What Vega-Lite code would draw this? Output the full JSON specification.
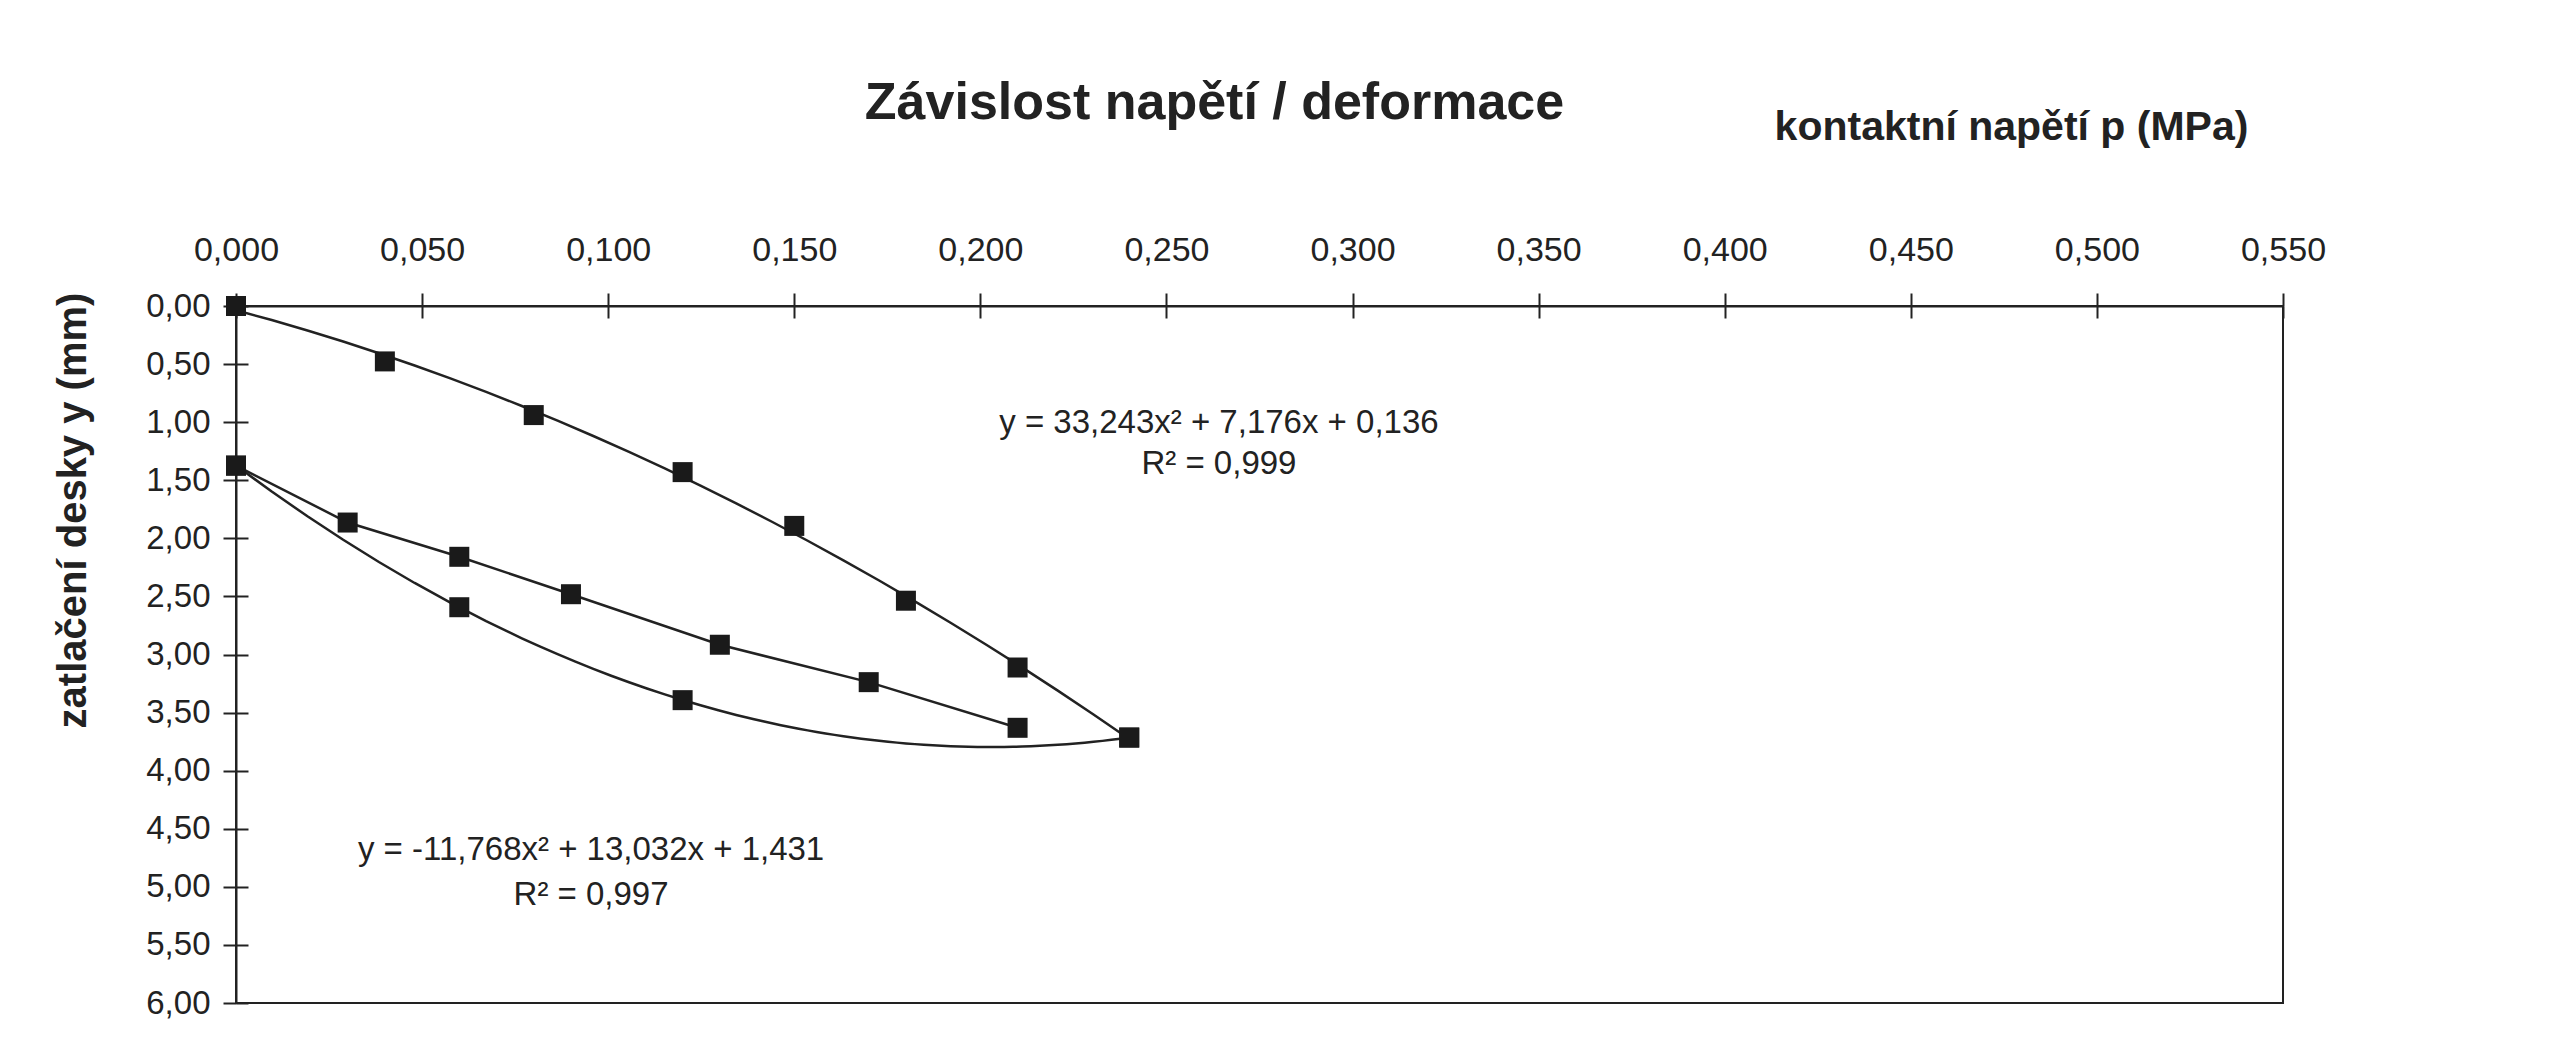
{
  "$schema": "https://vega.github.io/schema/vega-lite/v6.json",
  "autosize": {"type": "none"},
  "width": 2047,
  "height": 697,
  "padding": {"left": 236, "top": 306, "right": 270, "bottom": 55},
  "background": "white",
  "title": {
    "text": "Závislost napětí / deformace",
    "font": "Liberation Sans",
    "fontSize": 52,
    "fontWeight": "bold",
    "color": "#222222",
    "anchor": "middle",
    "frame": "group",
    "baseline": "alphabetic",
    "offset": 0,
    "dx": -45,
    "dy": 65
  },
  "datasets": {
    "points": [
      {"series": "A", "p": 0.0, "y": 0.0},
      {"series": "A", "p": 0.04, "y": 0.477},
      {"series": "A", "p": 0.08, "y": 0.939},
      {"series": "A", "p": 0.12, "y": 1.43},
      {"series": "A", "p": 0.15, "y": 1.893},
      {"series": "A", "p": 0.18, "y": 2.537},
      {"series": "A", "p": 0.21, "y": 3.112},
      {"series": "A", "p": 0.24, "y": 3.715},
      {"series": "B", "p": 0.0, "y": 1.374},
      {"series": "B", "p": 0.03, "y": 1.864},
      {"series": "B", "p": 0.06, "y": 2.159},
      {"series": "B", "p": 0.09, "y": 2.481},
      {"series": "B", "p": 0.13, "y": 2.916},
      {"series": "B", "p": 0.17, "y": 3.238},
      {"series": "B", "p": 0.21, "y": 3.631},
      {"series": "C", "p": 0.0, "y": 1.374},
      {"series": "C", "p": 0.06, "y": 2.593},
      {"series": "C", "p": 0.12, "y": 3.393},
      {"series": "C", "p": 0.24, "y": 3.715}
    ],
    "labels": [
      {"p": 0.2641, "y": 1.007, "text": "y = 33,243x² + 7,176x + 0,136"},
      {"p": 0.2641, "y": 1.36, "text": "R² = 0,999"},
      {"p": 0.0954, "y": 4.68, "text": "y = -11,768x² + 13,032x + 1,431"},
      {"p": 0.0954, "y": 5.07, "text": "R² = 0,997"}
    ]
  },
  "config": {
    "font": "Liberation Sans",
    "view": {"stroke": "#222222", "strokeWidth": 2},
    "axis": {
      "labelFont": "Liberation Sans",
      "titleFont": "Liberation Sans",
      "labelColor": "#222222",
      "titleColor": "#222222",
      "domainColor": "#222222",
      "tickColor": "#222222",
      "domainWidth": 2,
      "tickWidth": 2
    }
  },
  "encoding": {
    "x": {
      "field": "p",
      "type": "quantitative",
      "scale": {"domain": [0, 0.55], "nice": false, "zero": false},
      "axis": {
        "orient": "top",
        "values": [0, 0.05, 0.1, 0.15, 0.2, 0.25, 0.3, 0.35, 0.4, 0.45, 0.5, 0.55],
        "labelExpr": "replace(format(datum.value, '.3f'), '.', ',')",
        "labelFontSize": 34,
        "labelPadding": 26,
        "labelFlush": false,
        "labelOverlap": false,
        "tickSize": 13,
        "grid": true,
        "gridColor": "#222222",
        "gridOpacity": 1,
        "gridWidth": 2,
        "gridDash": [12, 4000],
        "title": "kontaktní napětí p (MPa)",
        "titleFontSize": 41,
        "titleFontWeight": "bold",
        "titleX": 1775,
        "titleY": -167,
        "titleAlign": "center",
        "titleBaseline": "alphabetic"
      }
    },
    "y": {
      "field": "y",
      "type": "quantitative",
      "scale": {"domain": [0, 6], "reverse": true, "nice": false, "zero": false},
      "axis": {
        "values": [0, 0.5, 1, 1.5, 2, 2.5, 3, 3.5, 4, 4.5, 5, 5.5, 6],
        "labelExpr": "replace(format(datum.value, '.2f'), '.', ',')",
        "labelFontSize": 33,
        "labelPadding": 13,
        "labelFlush": false,
        "labelOverlap": false,
        "tickSize": 13,
        "grid": true,
        "gridColor": "#222222",
        "gridOpacity": 1,
        "gridWidth": 2,
        "gridDash": [12, 4000],
        "title": "zatlačení desky y (mm)",
        "titleFontSize": 40,
        "titleFontWeight": "bold",
        "titleX": -163,
        "titleY": 204,
        "titleAngle": -90,
        "titleAlign": "center",
        "titleBaseline": "middle"
      }
    }
  },
  "layer": [
    {
      "data": {"name": "points"},
      "transform": [{"filter": "datum.series === 'B'"}],
      "mark": {"type": "line", "color": "#222222", "strokeWidth": 2.5}
    },
    {
      "data": {"name": "points"},
      "transform": [
        {"filter": "datum.series === 'A'"},
        {"regression": "y", "on": "p", "method": "poly", "order": 2}
      ],
      "mark": {"type": "line", "color": "#222222", "strokeWidth": 2.5}
    },
    {
      "data": {"name": "points"},
      "transform": [
        {"filter": "datum.series === 'C'"},
        {"regression": "y", "on": "p", "method": "poly", "order": 2}
      ],
      "mark": {"type": "line", "color": "#222222", "strokeWidth": 2.5}
    },
    {
      "data": {"name": "points"},
      "mark": {"type": "square", "filled": true, "color": "#1a1a1a", "size": 400, "opacity": 1}
    },
    {
      "data": {"name": "labels"},
      "mark": {"type": "text", "font": "Liberation Sans", "fontSize": 33, "color": "#222222", "align": "center", "baseline": "middle"},
      "encoding": {"text": {"field": "text"}}
    }
  ]
}
